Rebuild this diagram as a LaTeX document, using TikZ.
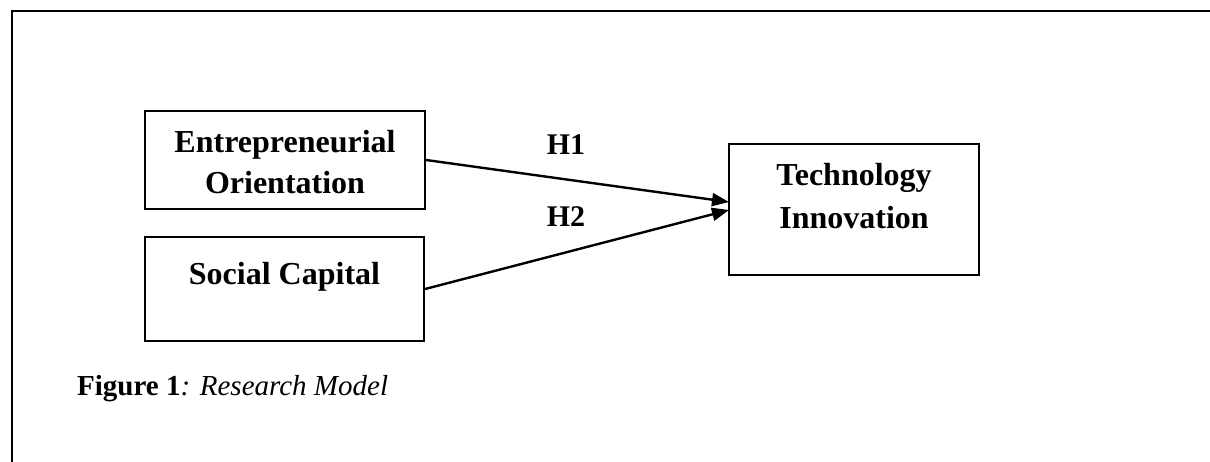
\documentclass[tikz,border=0pt]{standalone}
\usepackage{fontspec}
\setmainfont{Liberation Serif}
\usetikzlibrary{arrows.meta}

\tikzset{
  box/.style={draw=black, line width=2.2pt, fill=none, inner sep=0pt},
  boxtext/.style={anchor=base, inner sep=0pt, font=\fontsize{32}{40}\selectfont\bfseries},
  hyp/.style={anchor=base, inner sep=0pt, font=\fontsize{30}{36}\selectfont\bfseries},
  link/.style={line width=2.4pt, -{Triangle[length=17pt,width=13pt]}},
}

\begin{document}
\begin{tikzpicture}[x=1pt,y=-1pt]
  \useasboundingbox (0,0) rectangle (1210,461);

  % outer frame (runs past the page on the right and bottom)
  \draw[line width=2.6pt] (1212,11) -- (12,11) -- (12,463);

  % construct boxes
  \node[box, minimum width=280pt, minimum height=98pt]  (eo) at (285,160) {};
  \node[box, minimum width=279pt, minimum height=104pt] (sc) at (284.5,289) {};
  \node[box, minimum width=250pt, minimum height=131pt] (ti) at (854,209.5) {};

  % box captions
  \node[boxtext] (eo1) at (285,152) {Entrepreneurial};
  \node[boxtext] (eo2) at (285,193) {Orientation};
  \node[boxtext] (sc1) at (284.5,284) {Social Capital};
  \node[boxtext] (ti1) at (854,185) {Technology};
  \node[boxtext] (ti2) at (854,228) {Innovation};

  % hypothesised paths
  \coordinate (h1end) at (729,202);
  \coordinate (h2end) at (729,210);
  \draw[link] (eo.east) -- (h1end);
  \draw[link] (sc.east) -- (h2end);
  \node[hyp] (h1) at (566,154) {H1};
  \node[hyp] (h2) at (566,226) {H2};

  % figure caption
  \node[anchor=base west, inner sep=0pt, font=\fontsize{29}{34}\selectfont] (cap) at (77,395)
    {\textbf{Figure 1}\textit{: Research Model}};
\end{tikzpicture}
\end{document}
